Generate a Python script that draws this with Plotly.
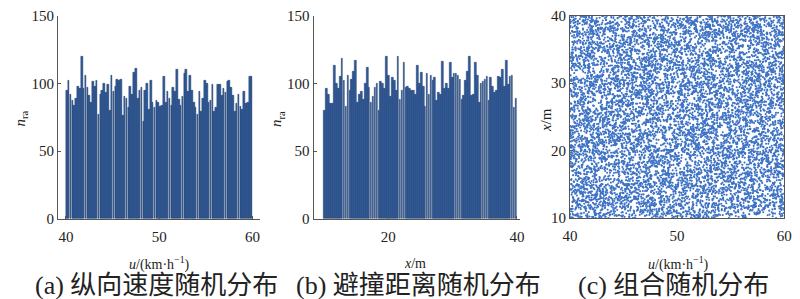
import numpy as np
import plotly.graph_objects as go

# ---- data ----
# (a) longitudinal speed histogram: 100 bins over 40..60 km/h
u_edges_start = 40.0
u_bin_width = 0.2
u_counts = [95,102,92,87,84,89,98,96,120,96,
            106,97,91,86,101,98,102,77,92,95,
            100,93,99,80,106,94,98,103,102,103,
            76,90,89,82,98,92,108,111,89,95,
            97,72,95,100,81,102,86,82,87,86,
            83,84,105,86,94,89,84,97,94,110,
            88,84,90,107,110,94,106,95,86,82,
            77,94,79,89,102,100,86,87,99,79,
            82,99,99,91,96,93,101,102,97,91,
            79,85,92,83,81,94,85,86,105,105]
# (b) avoidance distance histogram: 100 bins over 10..40 m
x_edges_start = 10.0
x_bin_width = 0.3
x_counts = [80,96,92,85,85,113,100,96,105,118,
            102,83,106,95,103,109,117,86,92,94,
            88,100,112,97,86,90,97,100,80,101,
            100,96,120,106,90,104,102,95,120,88,
            95,115,97,98,96,95,95,92,113,100,
            108,98,83,107,92,106,102,104,87,93,
            92,116,96,100,96,115,104,107,107,106,
            103,88,91,102,109,120,91,92,115,106,
            86,100,101,103,105,87,104,98,93,95,
            105,104,110,98,117,99,105,106,82,89]

u_ticks = [40, 50, 60]
x_ticks = [20, 40]
n_ticks = [0, 50, 100, 150]
c_xticks = [40, 50, 60]
c_yticks = [10, 20, 30, 40]
captions = ["(a) 纵向速度随机分布", "(b) 避撞距离随机分布", "(c) 组合随机分布"]

u_centers = [u_edges_start + u_bin_width * (i + 0.5) for i in range(len(u_counts))]
x_centers = [x_edges_start + x_bin_width * (i + 0.5) for i in range(len(x_counts))]

# (c) combined samples: u values taken from (a)'s bins, x values from (b)'s bins,
# spread evenly inside each bin; only the pairing order is shuffled.
def samples(start, width, counts):
    out = []
    for i, c in enumerate(counts):
        left = start + width * i
        out.extend(left + width * (np.arange(c) + 0.5) / c)
    return np.array(out)

us = samples(u_edges_start, u_bin_width, u_counts)
xs = samples(x_edges_start, x_bin_width, x_counts)
rng = np.random.default_rng(7)
n = min(len(us), len(xs))
us = rng.permutation(us)[:n]
xs = rng.permutation(xs)[:n]

SERIF = "Liberation Serif"
CAP = "Liberation Serif, Noto Sans CJK SC"
AX = "#555555"
BAR = "#2f5b9c"
BAR_EDGE = "#1c3a68"
DOT = "#3d72c4"

fig = go.Figure()
fig.add_trace(go.Bar(x=u_centers, y=u_counts, width=u_bin_width * 0.85,
                     marker=dict(color=BAR, line=dict(color=BAR_EDGE, width=0.5)),
                     xaxis="x", yaxis="y", showlegend=False))
fig.add_trace(go.Bar(x=x_centers, y=x_counts, width=x_bin_width * 0.85,
                     marker=dict(color=BAR, line=dict(color=BAR_EDGE, width=0.5)),
                     xaxis="x2", yaxis="y2", showlegend=False))
fig.add_trace(go.Scatter(x=us, y=xs, mode="markers",
                         marker=dict(size=2.1, color=DOT, line=dict(width=0)),
                         xaxis="x3", yaxis="y3", showlegend=False))

H = 299.0
def fy(py):
    return (H - py) / H

common = dict(showgrid=False, zeroline=False, showline=True, linecolor=AX,
              linewidth=1, ticks="inside", ticklen=3, tickcolor=AX,
              tickfont=dict(family=SERIF, size=15, color="#222"))

ydom = [fy(223), fy(8)]
fig.update_layout(
    width=800, height=299, margin=dict(l=0, r=0, t=0, b=0),
    paper_bgcolor="white", plot_bgcolor="white", bargap=0,
    xaxis=dict(domain=[52/800, 257/800], range=[39.16, 60.74], tickvals=u_ticks,
               anchor="y", ticklabelstandoff=4, **common),
    yaxis=dict(domain=ydom, range=[0, 150], tickvals=n_ticks, anchor="x", **common),
    xaxis2=dict(domain=[312/800, 522/800], range=[8.40, 40.46], tickvals=x_ticks,
                anchor="y2", ticklabelstandoff=4, **common),
    yaxis2=dict(domain=ydom, range=[0, 150], tickvals=n_ticks, anchor="x2", **common),
    xaxis3=dict(domain=[573/800, 791/800], range=[40, 60], tickvals=c_xticks,
                anchor="y3", mirror=True, ticklabelstandoff=4, **common),
    yaxis3=dict(domain=[fy(222), fy(8)], range=[10, 40], tickvals=c_yticks,
                anchor="x3", mirror=True, **common),
)

ann = []
def label(text, x, y, size=14, angle=0, family=SERIF):
    ann.append(dict(text=text, x=x / 800, y=fy(y), xref="paper", yref="paper",
                    showarrow=False, textangle=angle, xanchor="center", yanchor="middle",
                    borderpad=0, font=dict(family=family, size=size, color="#222")))

label("<i>n</i><sub>ra</sub>", 14, 117, 15, -90)
label("<i>n</i><sub>ra</sub>", 275, 117, 15, -90)
label("<i>x</i>/m", 548, 118, 15, -90)
label("<i>u</i>/(km·h<sup>−1</sup>)", 155, 270, 14)
label("<i>x</i>/m", 415, 270, 14)
label("<i>u</i>/(km·h<sup>−1</sup>)", 683, 270, 14)
label(captions[0], 152, 293, 26, family=CAP)
label(captions[1], 419, 293, 26, family=CAP)
label(captions[2], 678, 293, 26, family=CAP)
fig.update_layout(annotations=ann)

fig.write_html("out.html")
